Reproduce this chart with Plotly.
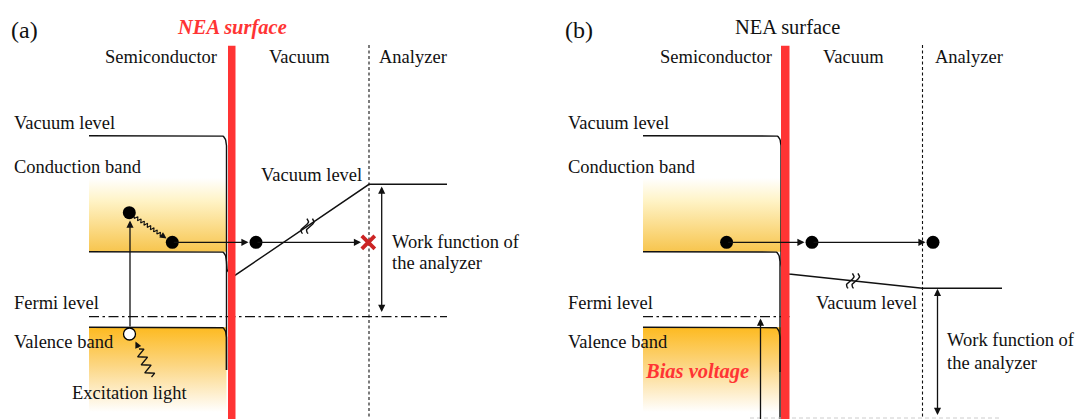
import numpy as np
import plotly.graph_objects as go

# ---- diagram data (screen-space units, y grows downward) ----
panel_tags = ["(a)", "(b)"]
surface_titles = ["NEA surface", "NEA surface"]
region_names = ["Semiconductor", "Vacuum", "Analyzer"]
band_names = ["Vacuum level", "Conduction band", "Fermi level", "Valence band"]

band_start_x = [89, 643]          # left end of the bulk bands
surface_x = [226.5, 781]          # bands bend down here
bar_left = [228, 781]
bar_right = [235.5, 789.5]
analyzer_x = [369, 922.5]
right_end_x = [447, 1002]

E_vacuum = 135.7
E_conduction = 251.7
E_fermi = 316.7
E_valence = 327.3
E_vac_surface = [275.7, 274.0]    # vacuum level just outside the surface
E_vac_analyzer = [184.3, 288.3]   # vacuum level at the analyzer
E_electron = 242.3

electrons_a = [(129.3, 212.7), (172.3, 242.3), (256.0, 242.3)]
hole_a = (129.5, 334.0)
electrons_b = [(726.6, 242.3), (812.0, 242.3), (933.0, 242.3)]

W, H = 1078, 419
SERIF = "Liberation Serif, Times New Roman, Times, serif"
INK = "#111111"
RED = "#ff3434"

fig = go.Figure()


def line(xs, ys, width=1.4, color=INK, dash=None, shape="linear"):
    fig.add_trace(go.Scatter(x=xs, y=ys, mode="lines", hoverinfo="skip",
                             line=dict(color=color, width=width, dash=dash, shape=shape),
                             showlegend=False))


def bent_level(x0, xs, y, y_end, rx=5.0, ry=10.0):
    """Flat level that bends down into the surface at xs."""
    t = np.linspace(0, np.pi / 2, 12)
    cx = (xs - rx) + rx * np.sin(t)
    cy = y + ry * (1 - np.cos(t))
    xs_all = [x0] + list(cx) + [xs]
    ys_all = [y] + list(cy) + [y_end]
    return xs_all, ys_all


def corner_out(xs, y_top, x_end, y_end, rx=8.0, ry=10.0):
    """Vertical drop that turns outward at the bottom."""
    t = np.linspace(0, np.pi / 2, 10)
    cx = x_end - rx * np.cos(t)
    cy = (y_end - ry) + ry * np.sin(t)
    return [xs] + list(cx), [y_top] + list(cy)


def gradient_block(x0, x1, y0, y1, colors):
    xs = [x0, x1, x1, x0, x0]
    ys = [y0, y0, y1, y1, y0]
    fig.add_trace(go.Scatter(
        x=xs, y=ys, mode="lines", fill="toself", hoverinfo="skip",
        line=dict(width=0, color="rgba(0,0,0,0)"), showlegend=False,
        fillgradient=dict(type="vertical", colorscale=colors, start=y0, stop=y1)))


def text(x, y, s, size=18.5, anchor="center", color=INK, bold=False, italic=False):
    if bold:
        s = "<b>" + s + "</b>"
    if italic:
        s = "<i>" + s + "</i>"
    fig.add_annotation(x=x, y=y, text=s, showarrow=False, xanchor=anchor, yanchor="middle",
                       font=dict(family=SERIF, size=size, color=color))


def arrow(x0, y0, x1, y1, both=False, width=1.3, size=1.1):
    fig.add_annotation(x=x1, y=y1, ax=x0, ay=y0, xref="x", yref="y", axref="x", ayref="y",
                       text="", showarrow=True, arrowhead=2, arrowsize=size,
                       arrowwidth=width, arrowcolor=INK,
                       startarrowhead=2, startarrowsize=size,
                       arrowside="end+start" if both else "end")


def zigzag(p0, p1, cycles, amp, n_per=4):
    p0 = np.array(p0, float)
    p1 = np.array(p1, float)
    d = p1 - p0
    L = np.hypot(*d)
    u = d / L
    nrm = np.array([-u[1], u[0]])
    n = int(cycles * n_per) + 1
    s = np.linspace(0, 1, n)
    tri = np.array([0, 1, 0, -1] * (int(cycles) + 2))[:n]
    pts = p0[None, :] + s[:, None] * d[None, :] + (amp * tri)[:, None] * nrm[None, :]
    return pts[:, 0], pts[:, 1]


def break_mark(cx, cy, h=15, gap=5.5):
    """Two S-shaped strokes marking a broken (not-to-scale) line."""
    t = np.linspace(-1, 1, 30)
    for off in (-gap / 2, gap / 2):
        xs = cx + off - 2.6 * np.sin(np.pi * t) - 2.2 * t
        ys = cy + h / 2 * t
        line(list(xs), list(ys), width=1.4)


cond_colors = [[0, "rgb(255,255,255)"], [0.3, "rgb(255,244,200)"], [1, "rgb(247,197,78)"]]
val_colors = [[0, "rgb(253,186,32)"], [0.45, "rgb(252,214,130)"], [1, "rgb(255,255,255)"]]

for i in range(2):
    x0, xs = band_start_x[i], surface_x[i]
    # band fills
    gradient_block(x0, xs, 178, E_conduction, cond_colors)
    gradient_block(x0, xs, E_valence, 412, val_colors)

    # NEA surface bar
    fig.add_shape(type="rect", x0=bar_left[i], x1=bar_right[i], y0=45.7, y1=H + 2,
                  fillcolor=RED, line=dict(width=0), layer="above")
    # analyzer boundary
    line([analyzer_x[i], analyzer_x[i]], [45, H + 2], width=1.1, dash="3px,2.5px")

text(24.5, 30, panel_tags[0], size=24)
text(578.5, 30, panel_tags[1], size=24)
text(232, 27.3, surface_titles[0], size=20.5, color=RED, bold=True, italic=True)
text(787.5, 27.3, surface_titles[1], size=20.5)

for cx, name in zip([160.5, 299, 413], region_names):
    text(cx, 56.7, name)
for cx, name in zip([715.5, 853.5, 969], region_names):
    text(cx, 56.7, name)

# ---------------- panel (a) ----------------
xs_v, ys_v = bent_level(band_start_x[0], surface_x[0], E_vacuum, 262)
cx_, cy_ = corner_out(surface_x[0], 262, 234.5, E_vac_surface[0])
line(xs_v + cx_ + [analyzer_x[0], right_end_x[0]],
     ys_v + cy_ + [E_vac_analyzer[0], E_vac_analyzer[0]])
xs_c, ys_c = bent_level(band_start_x[0], surface_x[0], E_conduction, 370)
line(xs_c, ys_c)
xs_b, ys_b = bent_level(band_start_x[0], surface_x[0], E_valence, 370)
line(xs_b, ys_b)
line([band_start_x[0], right_end_x[0]], [E_fermi, E_fermi], width=1.2, dash="10px,3.5px,2.5px,3.5px")

# break mark on the vacuum slope
t_mid = (307.5 - 234.5) / (analyzer_x[0] - 234.5)
break_mark(307.5, E_vac_surface[0] + t_mid * (E_vac_analyzer[0] - E_vac_surface[0]))

text(12, 123.3, band_names[0], anchor="left")
text(12, 166.7, band_names[1], anchor="left")
text(364, 175, band_names[0], anchor="right")
text(12, 303.3, band_names[2], anchor="left")
text(12, 341.7, band_names[3], anchor="left")
text(129, 393.3, "Excitation light")
text(390, 241.7, "Work function of", anchor="left")
text(390, 263.3, "the analyzer", anchor="left")

# excitation: hole -> electron
arrow(130, 328, 130, 220.5)
# thermalisation (wavy) from hot electron to band bottom
zx, zy = zigzag((134.5, 216.5), (163.5, 236.5), cycles=9, amp=1.8)
line(list(zx), list(zy), width=1.1)
arrow(161, 234.7, 166.5, 238.5, size=1.0)
# transport arrows
arrow(172.3, E_electron, 248.5, E_electron)
arrow(256, E_electron, 361, E_electron)
# work function of analyzer
arrow(381.7, 313.5, 381.7, 186.5, both=True)
# excitation light
lx, ly = zigzag((151.5, 377), (139, 349), cycles=3.5, amp=4.5)
line(list(lx), list(ly), width=1.3)
arrow(139, 349, 135.5, 341.5, size=1.0)

ex, ey = zip(*electrons_a)
fig.add_trace(go.Scatter(x=list(ex), y=list(ey), mode="markers", hoverinfo="skip",
                         marker=dict(size=13, color="black"), showlegend=False))
fig.add_trace(go.Scatter(x=[hole_a[0]], y=[hole_a[1]], mode="markers", hoverinfo="skip",
                         marker=dict(size=12, color="white", line=dict(color="black", width=1.3)),
                         showlegend=False))
fig.add_trace(go.Scatter(x=[368.3], y=[E_electron], mode="markers", hoverinfo="skip",
                         marker=dict(symbol="x-thin", size=13,
                                     line=dict(color="#cc2424", width=3.8)),
                         showlegend=False))

# ---------------- panel (b) ----------------
xs_v, ys_v = bent_level(band_start_x[1], surface_x[1], E_vacuum, 264)
cx_, cy_ = corner_out(surface_x[1], 264, 789, E_vac_surface[1])
line(xs_v + cx_ + [analyzer_x[1], right_end_x[1]],
     ys_v + cy_ + [E_vac_analyzer[1], E_vac_analyzer[1]])
xs_c, ys_c = bent_level(band_start_x[1], surface_x[1] - 1, E_conduction, 372)
line(xs_c, ys_c)
xs_b, ys_b = bent_level(band_start_x[1], surface_x[1] - 1, E_valence, H + 2)
line(xs_b, ys_b)
line([band_start_x[1], bar_right[1]], [E_fermi, E_fermi], width=1.2, dash="10px,3.5px,2.5px,3.5px")
line([750, 1000], [H - 1, H - 1], width=1, color="#cccccc", dash="4px,3px")

t_mid = (853 - 789) / (analyzer_x[1] - 789)
break_mark(853, E_vac_surface[1] + t_mid * (E_vac_analyzer[1] - E_vac_surface[1]))

text(566, 123.3, band_names[0], anchor="left")
text(566, 166.7, band_names[1], anchor="left")
text(866, 303.3, band_names[0])
text(566, 303.3, band_names[2], anchor="left")
text(566, 341.7, band_names[3], anchor="left")
text(697, 371.7, "Bias voltage", size=20.5, color=RED, bold=True, italic=True)
text(945, 340, "Work function of", anchor="left")
text(945, 362.7, "the analyzer", anchor="left")

arrow(726.6, E_electron, 804.5, E_electron)
arrow(812, E_electron, 925.5, E_electron)
arrow(760.5, H + 5, 760.5, 318.5)
arrow(937.5, 416.5, 937.5, 288.8, both=True)

bx, by = zip(*electrons_b)
fig.add_trace(go.Scatter(x=list(bx), y=list(by), mode="markers", hoverinfo="skip",
                         marker=dict(size=13, color="black"), showlegend=False))

fig.update_layout(
    width=W, height=H, margin=dict(l=0, r=0, t=0, b=0),
    paper_bgcolor="white", plot_bgcolor="white", showlegend=False,
    xaxis=dict(range=[0, W], visible=False, fixedrange=True),
    yaxis=dict(range=[H, 0], visible=False, fixedrange=True),
)

fig.write_html("out.html")
